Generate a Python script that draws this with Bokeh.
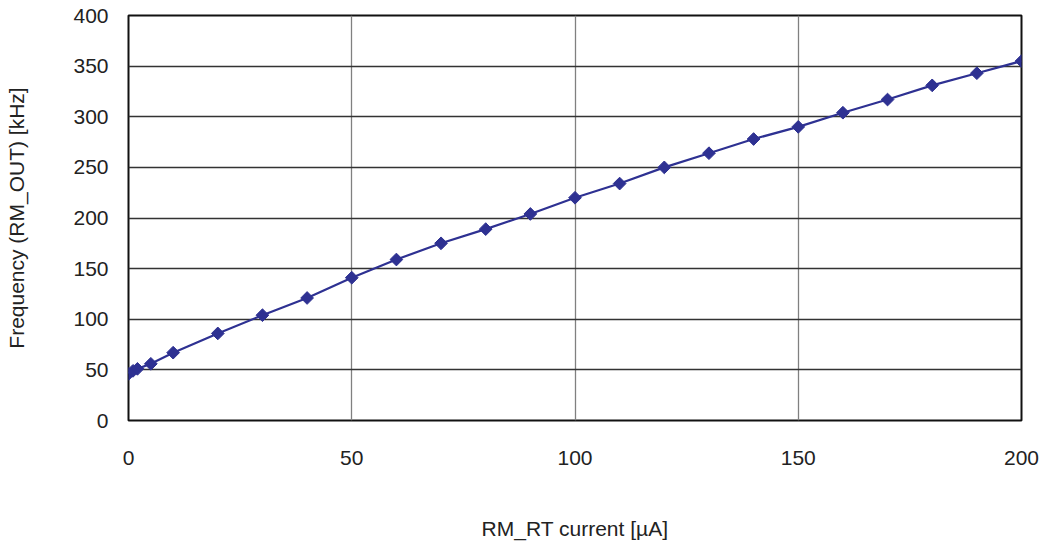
import math
from bokeh.plotting import figure
from bokeh.models import Range1d, FixedTicker
from bokeh.embed import file_html
from bokeh.resources import INLINE

current_uA = [0, 1, 2, 5, 10, 20, 30, 40, 50, 60, 70, 80, 90, 100, 110, 120,
              130, 140, 150, 160, 170, 180, 190, 200]
freq_kHz = [46, 49, 51, 56, 67, 86, 104, 121, 141, 159, 175, 189, 204, 220, 234,
            250, 264, 278, 290, 304, 317, 331, 343, 355]
x_ticks = [0, 50, 100, 150, 200]
y_ticks = [0, 50, 100, 150, 200, 250, 300, 350, 400]

FONT = "Liberation Sans"
BLUE = "#2E3192"

p = figure(width=1044, height=542, output_backend="svg", toolbar_location=None,
           x_range=Range1d(0, 200), y_range=Range1d(0, 400),
           min_border_left=128, min_border_right=23, min_border_top=15,
           min_border_bottom=122)

p.outline_line_color = "#111111"
p.outline_line_width = 2
p.background_fill_color = "white"
p.border_fill_color = "white"

p.xgrid.ticker = FixedTicker(ticks=x_ticks)
p.ygrid.ticker = FixedTicker(ticks=y_ticks)
p.xgrid.grid_line_color = "#808080"
p.xgrid.grid_line_width = 1.3
p.ygrid.grid_line_color = "#333333"
p.ygrid.grid_line_width = 1.3

for ax in (p.xaxis[0], p.yaxis[0]):
    ax.axis_line_color = None
    ax.major_tick_line_color = None
    ax.minor_tick_line_color = None
    ax.major_tick_out = 0
    ax.major_tick_in = 0
    ax.minor_tick_out = 0
    ax.minor_tick_in = 0
    ax.major_label_text_font = FONT
    ax.major_label_text_font_size = "21px"
    ax.major_label_text_color = "#222222"
    ax.axis_label_text_font = FONT
    ax.axis_label_text_font_size = "21px"
    ax.axis_label_text_font_style = "normal"
    ax.axis_label_text_color = "#222222"

p.xaxis.ticker = FixedTicker(ticks=x_ticks)
p.yaxis.ticker = FixedTicker(ticks=y_ticks)
p.xaxis.axis_label = "RM_RT current [µA]"
p.yaxis.axis_label = "Frequency (RM_OUT) [kHz]"
p.xaxis.major_label_standoff = 30
p.xaxis.axis_label_standoff = 49
p.yaxis.major_label_standoff = 20
p.yaxis.axis_label_standoff = 42

p.line(current_uA, freq_kHz, line_color=BLUE, line_width=2.2)
p.scatter(current_uA, freq_kHz, marker="square", angle=math.pi / 4, size=9,
          fill_color=BLUE, line_color=BLUE)

open("out.html", "w").write(file_html(p, INLINE))
